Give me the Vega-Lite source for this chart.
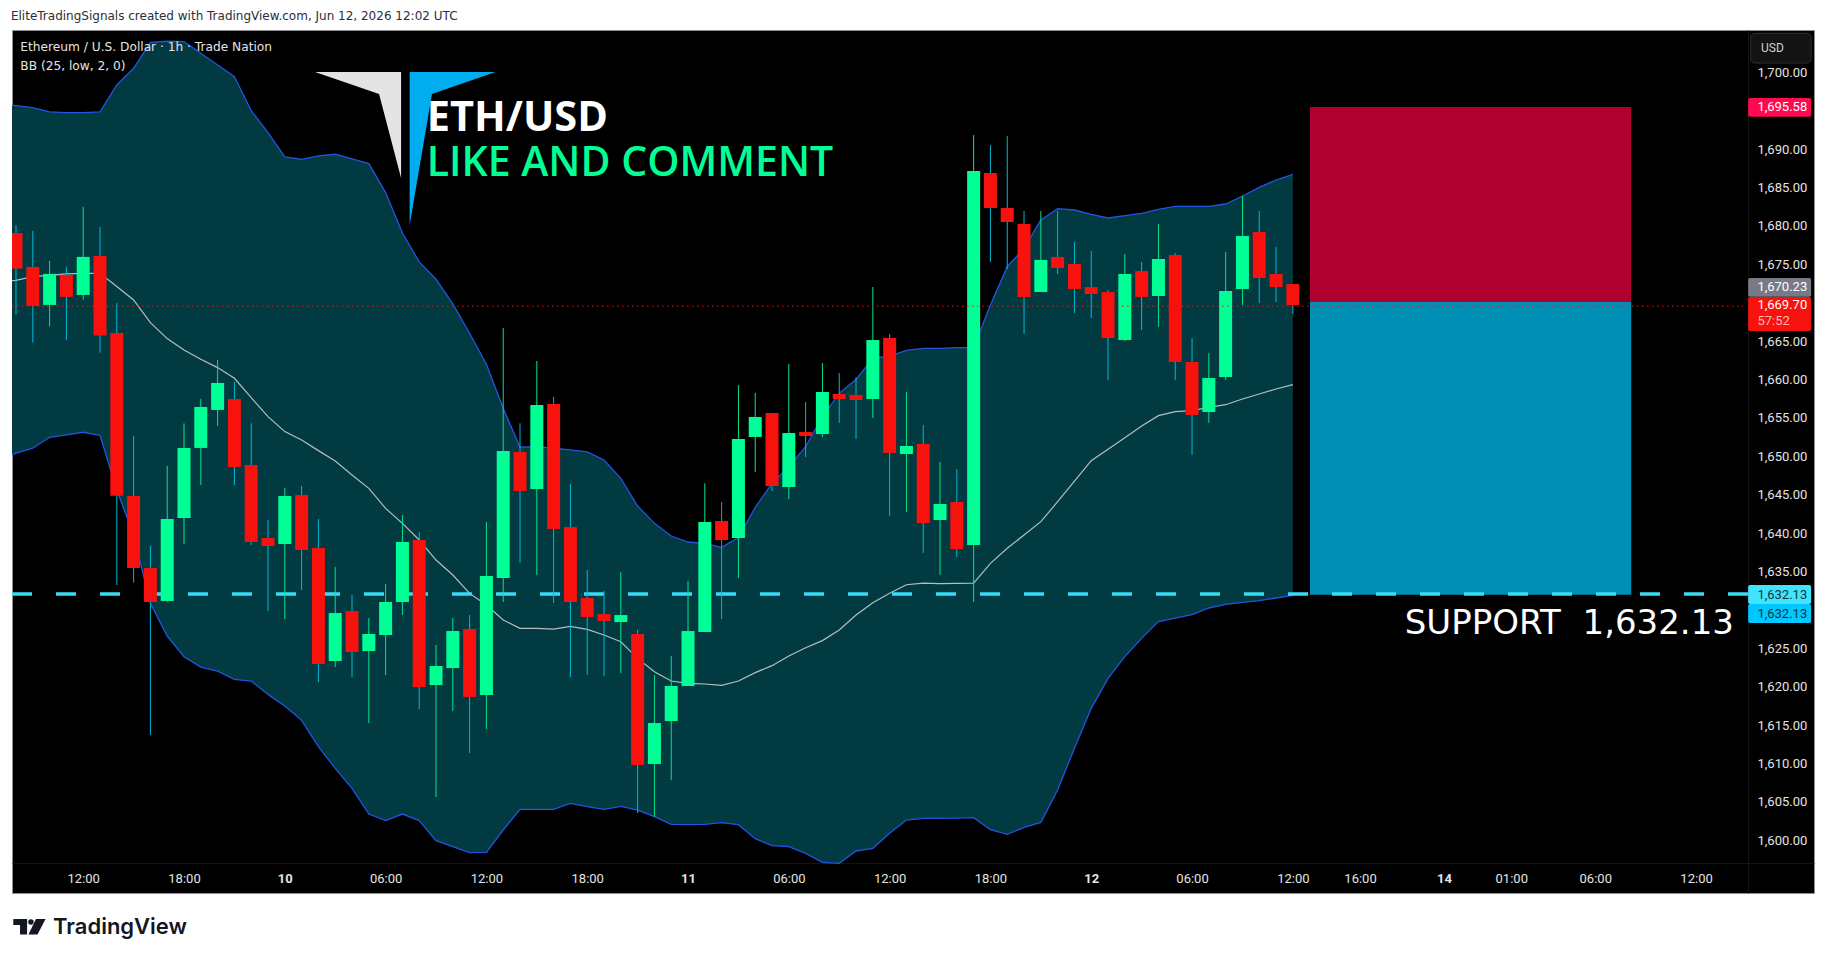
{
  "$schema": "https://vega.github.io/schema/vega-lite/v6.json",
  "width": 1802,
  "height": 863,
  "autosize": "none",
  "padding": {"left": 12, "top": 30, "right": 12, "bottom": 67},
  "background": "#ffffff",
  "view": {"fill": "#000000", "stroke": "#8f8f8f", "strokeWidth": 1},
  "config": {"text": {"font": "Roboto"}, "scale": {"continuousPadding": 0}},
  "resolve": {"scale": {"color": "independent"}},
  "datasets": {
    "bb": [
      {"bar":7.762,"upper":1695.7,"middle":1672.88,"lower":1650.18},
      {"bar":8,"upper":1695.66,"middle":1672.92,"lower":1650.4},
      {"bar":9,"upper":1695.4,"middle":1673.4,"lower":1651.05},
      {"bar":10,"upper":1694.84,"middle":1673.57,"lower":1652.48},
      {"bar":11,"upper":1694.75,"middle":1673.75,"lower":1652.78},
      {"bar":12,"upper":1694.75,"middle":1673.83,"lower":1653.13},
      {"bar":13,"upper":1694.84,"middle":1673.83,"lower":1652.74},
      {"bar":14,"upper":1698.35,"middle":1672.1,"lower":1645.61},
      {"bar":15,"upper":1700.52,"middle":1670.36,"lower":1639.75},
      {"bar":16,"upper":1703.91,"middle":1667.41,"lower":1630.85},
      {"bar":17,"upper":1704.04,"middle":1665.33,"lower":1626.6},
      {"bar":18,"upper":1704.0,"middle":1663.85,"lower":1623.91},
      {"bar":19,"upper":1702.48,"middle":1662.63,"lower":1622.56},
      {"bar":20,"upper":1700.96,"middle":1661.55,"lower":1622.04},
      {"bar":21,"upper":1699.44,"middle":1660.16,"lower":1620.96},
      {"bar":22,"upper":1695.0,"middle":1657.64,"lower":1620.74},
      {"bar":23,"upper":1692.15,"middle":1655.17,"lower":1619.0},
      {"bar":24,"upper":1688.98,"middle":1653.22,"lower":1617.49},
      {"bar":25,"upper":1688.67,"middle":1652.13,"lower":1615.62},
      {"bar":26,"upper":1689.11,"middle":1650.74,"lower":1612.19},
      {"bar":27,"upper":1689.33,"middle":1649.4,"lower":1609.37},
      {"bar":28,"upper":1688.72,"middle":1647.57,"lower":1606.76},
      {"bar":29,"upper":1688.11,"middle":1645.83,"lower":1603.42},
      {"bar":30,"upper":1684.33,"middle":1643.22,"lower":1602.56},
      {"bar":31,"upper":1679.08,"middle":1641.27,"lower":1603.42},
      {"bar":32,"upper":1675.31,"middle":1639.1,"lower":1602.56},
      {"bar":33,"upper":1673.05,"middle":1636.49,"lower":1599.95},
      {"bar":34,"upper":1669.84,"middle":1634.54,"lower":1599.17},
      {"bar":35,"upper":1666.02,"middle":1632.15,"lower":1598.39},
      {"bar":36,"upper":1661.98,"middle":1630.63,"lower":1598.43},
      {"bar":37,"upper":1656.25,"middle":1628.68,"lower":1601.34},
      {"bar":38,"upper":1651.18,"middle":1627.6,"lower":1604.03},
      {"bar":39,"upper":1651.26,"middle":1627.6,"lower":1604.03},
      {"bar":40,"upper":1651.05,"middle":1627.51,"lower":1604.03},
      {"bar":41,"upper":1650.83,"middle":1627.86,"lower":1604.81},
      {"bar":42,"upper":1650.57,"middle":1627.47,"lower":1604.38},
      {"bar":43,"upper":1649.52,"middle":1626.73,"lower":1604.03},
      {"bar":44,"upper":1647.13,"middle":1625.86,"lower":1604.42},
      {"bar":45,"upper":1643.53,"middle":1623.69,"lower":1603.94},
      {"bar":46,"upper":1641.27,"middle":1621.96,"lower":1603.08},
      {"bar":47,"upper":1639.62,"middle":1620.74,"lower":1602.08},
      {"bar":48,"upper":1638.84,"middle":1620.44,"lower":1602.04},
      {"bar":49,"upper":1638.67,"middle":1620.35,"lower":1602.08},
      {"bar":50,"upper":1638.15,"middle":1620.18,"lower":1602.3},
      {"bar":51,"upper":1639.41,"middle":1620.74,"lower":1602.04},
      {"bar":52,"upper":1643.36,"middle":1621.83,"lower":1600.21},
      {"bar":53,"upper":1646.48,"middle":1622.74,"lower":1599.3},
      {"bar":54,"upper":1648.65,"middle":1624.0,"lower":1599.17},
      {"bar":55,"upper":1651.25,"middle":1625.08,"lower":1598.3},
      {"bar":56,"upper":1655.16,"middle":1626.0,"lower":1597.13},
      {"bar":57,"upper":1658.2,"middle":1627.38,"lower":1597.0},
      {"bar":58,"upper":1660.02,"middle":1629.33,"lower":1598.61},
      {"bar":59,"upper":1662.75,"middle":1630.94,"lower":1598.96},
      {"bar":60,"upper":1663.06,"middle":1632.16,"lower":1600.91},
      {"bar":61,"upper":1663.8,"middle":1633.28,"lower":1602.64},
      {"bar":62,"upper":1664.06,"middle":1633.5,"lower":1602.86},
      {"bar":63,"upper":1664.06,"middle":1633.41,"lower":1602.86},
      {"bar":64,"upper":1664.14,"middle":1633.46,"lower":1602.9},
      {"bar":65,"upper":1664.14,"middle":1633.5,"lower":1602.95},
      {"bar":66,"upper":1669.7,"middle":1636.06,"lower":1601.38},
      {"bar":67,"upper":1674.69,"middle":1638.02,"lower":1600.78},
      {"bar":68,"upper":1677.08,"middle":1639.75,"lower":1601.69},
      {"bar":69,"upper":1680.77,"middle":1641.49,"lower":1602.34},
      {"bar":70,"upper":1682.24,"middle":1644.09,"lower":1606.55},
      {"bar":71,"upper":1682.07,"middle":1646.78,"lower":1611.98},
      {"bar":72,"upper":1681.5,"middle":1649.43,"lower":1617.18},
      {"bar":73,"upper":1681.03,"middle":1650.91,"lower":1621.09},
      {"bar":74,"upper":1681.33,"middle":1652.43,"lower":1623.91},
      {"bar":75,"upper":1681.63,"middle":1653.94,"lower":1626.3},
      {"bar":76,"upper":1682.15,"middle":1655.29,"lower":1628.47},
      {"bar":77,"upper":1682.54,"middle":1655.81,"lower":1628.94},
      {"bar":78,"upper":1682.54,"middle":1655.94,"lower":1629.38},
      {"bar":79,"upper":1682.54,"middle":1656.38,"lower":1630.25},
      {"bar":80,"upper":1682.85,"middle":1656.72,"lower":1630.72},
      {"bar":81,"upper":1683.89,"middle":1657.46,"lower":1630.98},
      {"bar":82,"upper":1685.02,"middle":1658.11,"lower":1631.2},
      {"bar":83,"upper":1685.97,"middle":1658.76,"lower":1631.55},
      {"bar":84,"upper":1686.71,"middle":1659.33,"lower":1631.9}
    ],
    "candles": [
      {"bar":8,"open":1679.08,"high":1680.12,"low":1668.41,"close":1674.44},
      {"bar":9,"open":1674.66,"high":1679.34,"low":1664.8,"close":1669.58},
      {"bar":10,"open":1669.71,"high":1675.44,"low":1666.89,"close":1673.75},
      {"bar":11,"open":1673.62,"high":1674.7,"low":1665.15,"close":1670.75},
      {"bar":12,"open":1671.01,"high":1682.47,"low":1670.36,"close":1675.96},
      {"bar":13,"open":1676.09,"high":1679.86,"low":1663.5,"close":1665.72},
      {"bar":14,"open":1666.06,"high":1669.97,"low":1633.24,"close":1644.87},
      {"bar":15,"open":1644.83,"high":1652.65,"low":1633.54,"close":1635.45},
      {"bar":16,"open":1635.45,"high":1638.32,"low":1613.71,"close":1631.03},
      {"bar":17,"open":1631.16,"high":1648.75,"low":1631.07,"close":1641.83},
      {"bar":18,"open":1641.96,"high":1654.3,"low":1638.58,"close":1651.09},
      {"bar":19,"open":1651.09,"high":1657.47,"low":1646.26,"close":1656.43},
      {"bar":20,"open":1656.04,"high":1662.55,"low":1653.96,"close":1659.55},
      {"bar":21,"open":1657.47,"high":1659.68,"low":1646.26,"close":1648.62},
      {"bar":22,"open":1648.88,"high":1654.3,"low":1638.45,"close":1638.84},
      {"bar":23,"open":1639.36,"high":1641.7,"low":1629.85,"close":1638.32},
      {"bar":24,"open":1638.58,"high":1645.87,"low":1628.81,"close":1644.83},
      {"bar":25,"open":1644.96,"high":1646.13,"low":1632.59,"close":1637.8},
      {"bar":26,"open":1638.06,"high":1641.83,"low":1620.61,"close":1622.95},
      {"bar":27,"open":1623.34,"high":1635.58,"low":1622.56,"close":1629.59},
      {"bar":28,"open":1629.85,"high":1631.94,"low":1621.26,"close":1624.52},
      {"bar":29,"open":1624.65,"high":1628.94,"low":1615.27,"close":1626.86},
      {"bar":30,"open":1626.73,"high":1633.37,"low":1621.52,"close":1631.03},
      {"bar":31,"open":1631.03,"high":1642.35,"low":1629.33,"close":1638.84},
      {"bar":32,"open":1639.1,"high":1640.14,"low":1617.09,"close":1619.96},
      {"bar":33,"open":1620.22,"high":1625.43,"low":1605.64,"close":1622.69},
      {"bar":34,"open":1622.43,"high":1628.94,"low":1616.83,"close":1627.25},
      {"bar":35,"open":1627.51,"high":1629.33,"low":1611.36,"close":1618.66},
      {"bar":36,"open":1618.92,"high":1641.44,"low":1614.49,"close":1634.41},
      {"bar":37,"open":1634.15,"high":1666.71,"low":1631.03,"close":1650.7},
      {"bar":38,"open":1650.57,"high":1654.3,"low":1636.1,"close":1645.48},
      {"bar":39,"open":1645.74,"high":1662.42,"low":1634.54,"close":1656.69},
      {"bar":40,"open":1656.82,"high":1657.73,"low":1630.9,"close":1640.53},
      {"bar":41,"open":1640.79,"high":1646.39,"low":1621.26,"close":1631.03},
      {"bar":42,"open":1631.55,"high":1635.19,"low":1621.52,"close":1629.07},
      {"bar":43,"open":1629.46,"high":1632.46,"low":1621.39,"close":1628.55},
      {"bar":44,"open":1628.42,"high":1634.93,"low":1621.78,"close":1629.33},
      {"bar":45,"open":1626.86,"high":1627.4,"low":1603.55,"close":1609.8},
      {"bar":46,"open":1609.94,"high":1621.52,"low":1603.08,"close":1615.27},
      {"bar":47,"open":1615.53,"high":1624.0,"low":1607.85,"close":1620.09},
      {"bar":48,"open":1620.09,"high":1633.76,"low":1620.09,"close":1627.25},
      {"bar":49,"open":1627.12,"high":1646.48,"low":1627.12,"close":1641.45},
      {"bar":50,"open":1641.58,"high":1644.05,"low":1628.81,"close":1639.1},
      {"bar":51,"open":1639.36,"high":1659.28,"low":1634.15,"close":1652.25},
      {"bar":52,"open":1652.52,"high":1658.24,"low":1647.96,"close":1655.12},
      {"bar":53,"open":1655.64,"high":1655.64,"low":1645.48,"close":1646.13},
      {"bar":54,"open":1646.0,"high":1662.0,"low":1644.44,"close":1653.03},
      {"bar":55,"open":1653.16,"high":1657.07,"low":1649.91,"close":1652.64},
      {"bar":56,"open":1652.9,"high":1662.15,"low":1652.52,"close":1658.37},
      {"bar":57,"open":1658.11,"high":1660.84,"low":1654.34,"close":1657.46},
      {"bar":58,"open":1657.98,"high":1660.32,"low":1652.25,"close":1657.33},
      {"bar":59,"open":1657.46,"high":1672.04,"low":1654.99,"close":1665.14},
      {"bar":60,"open":1665.4,"high":1665.92,"low":1642.23,"close":1650.43},
      {"bar":61,"open":1650.3,"high":1658.37,"low":1642.75,"close":1651.34},
      {"bar":62,"open":1651.6,"high":1654.08,"low":1637.41,"close":1641.32},
      {"bar":63,"open":1641.71,"high":1649.26,"low":1634.55,"close":1643.79},
      {"bar":64,"open":1644.05,"high":1648.35,"low":1636.89,"close":1637.93},
      {"bar":65,"open":1638.45,"high":1691.83,"low":1631.03,"close":1687.15},
      {"bar":66,"open":1686.89,"high":1690.53,"low":1675.3,"close":1682.33},
      {"bar":67,"open":1682.33,"high":1691.7,"low":1674.39,"close":1680.51},
      {"bar":68,"open":1680.25,"high":1681.94,"low":1665.92,"close":1670.74},
      {"bar":69,"open":1671.39,"high":1681.94,"low":1671.39,"close":1675.56},
      {"bar":70,"open":1675.95,"high":1681.94,"low":1673.74,"close":1674.52},
      {"bar":71,"open":1675.04,"high":1677.9,"low":1668.66,"close":1671.78},
      {"bar":72,"open":1672.04,"high":1676.73,"low":1668.01,"close":1671.13},
      {"bar":73,"open":1671.39,"high":1671.65,"low":1659.93,"close":1665.4},
      {"bar":74,"open":1665.14,"high":1676.34,"low":1665.01,"close":1673.74},
      {"bar":75,"open":1674.13,"high":1675.3,"low":1666.44,"close":1670.74},
      {"bar":76,"open":1670.87,"high":1680.25,"low":1666.83,"close":1675.69},
      {"bar":77,"open":1676.21,"high":1676.47,"low":1659.93,"close":1662.28},
      {"bar":78,"open":1662.28,"high":1665.4,"low":1650.17,"close":1655.38},
      {"bar":79,"open":1655.77,"high":1663.45,"low":1654.34,"close":1660.19},
      {"bar":80,"open":1660.32,"high":1676.6,"low":1659.93,"close":1671.52},
      {"bar":81,"open":1671.78,"high":1683.89,"low":1669.7,"close":1678.68},
      {"bar":82,"open":1679.2,"high":1681.94,"low":1669.96,"close":1673.21},
      {"bar":83,"open":1673.74,"high":1677.25,"low":1670.09,"close":1672.04},
      {"bar":84,"open":1672.43,"high":1672.43,"low":1668.53,"close":1669.7}
    ],
    "tags": [
      {"tag":"stop","label":"1,695.58","top":1696.65,"bottom":1694.22,"mid":1695.44},
      {"tag":"entry","label":"1,670.23","top":1673.22,"bottom":1670.78,"mid":1672.0},
      {"tag":"last","label":"1,669.70","top":1670.74,"bottom":1666.31,"mid":1669.7},
      {"tag":"support","label":"1,632.13","top":1633.24,"bottom":1630.77,"mid":1632.0},
      {"tag":"alert","label":"1,632.13","top":1630.77,"bottom":1628.29,"mid":1629.53}
    ]
  },
  "layer": [
    {
      "data": {"name": "bb"},
      "mark": {"type": "area", "color": "#023a42", "clip": true},
      "encoding": {
        "x": {
          "field": "bar",
          "type": "quantitative",
          "scale": {"domain": [7.762, 115.02], "nice": false, "zero": false},
          "axis": {
            "title": null,
            "orient": "bottom",
            "offset": -30,
            "values": [12,18,24,30,36,42,48,54,60,66,72,78,84,88,93,97,102,108],
            "labelExpr": "{'12':'12:00','18':'18:00','24':'10','30':'06:00','36':'12:00','42':'18:00','48':'11','54':'06:00','60':'12:00','66':'18:00','72':'12','78':'06:00','84':'12:00','88':'16:00','93':'14','97':'01:00','102':'06:00','108':'12:00'}[datum.value]",
            "labelFont": "Roboto",
            "labelFontSize": 13,
            "labelColor": "#e4e4e4",
            "labelFontWeight": {"condition": {"test": "indexof([24,48,72,93],datum.value)>=0", "value": "bold"}, "value": "normal"},
            "labelPadding": 9,
            "labelOverlap": false,
            "labelFlush": false,
            "grid": false,
            "ticks": false,
            "domainColor": "#141414"
          }
        },
        "y": {
          "field": "upper",
          "type": "quantitative",
          "scale": {"domain": [1593.14, 1705.508], "nice": false, "zero": false},
          "axis": {
            "title": null,
            "orient": "right",
            "offset": -66,
            "values": [1600,1605,1610,1615,1620,1625,1635,1640,1645,1650,1655,1660,1665,1675,1680,1685,1690,1700],
            "format": ",.2f",
            "labelFont": "Roboto",
            "labelFontSize": 13,
            "labelColor": "#e4e4e4",
            "labelPadding": 9,
            "labelOverlap": false,
            "labelFlush": false,
            "grid": false,
            "ticks": false,
            "domainColor": "#141414"
          }
        },
        "y2": {"field": "lower"}
      }
    },
    {
      "data": {"name": "bb"},
      "mark": {"type": "line", "color": "#2255e0", "strokeWidth": 1.3, "clip": true},
      "encoding": {"x": {"field": "bar", "type": "quantitative"}, "y": {"field": "upper", "type": "quantitative"}}
    },
    {
      "data": {"name": "bb"},
      "mark": {"type": "line", "color": "#2255e0", "strokeWidth": 1.3, "clip": true},
      "encoding": {"x": {"field": "bar", "type": "quantitative"}, "y": {"field": "lower", "type": "quantitative"}}
    },
    {
      "data": {"name": "bb"},
      "mark": {"type": "line", "color": "#b4bebe", "strokeWidth": 1.2, "clip": true},
      "encoding": {"x": {"field": "bar", "type": "quantitative"}, "y": {"field": "middle", "type": "quantitative"}}
    },
    {
      "data": {"values": [
        {"zone": "risk", "from": 85.02, "to": 104.14, "top": 1695.47, "bottom": 1670.1},
        {"zone": "reward", "from": 85.02, "to": 104.14, "top": 1670.1, "bottom": 1631.98}
      ]},
      "mark": {"type": "rect"},
      "encoding": {
        "x": {"field": "from", "type": "quantitative"},
        "x2": {"field": "to"},
        "y": {"field": "top", "type": "quantitative"},
        "y2": {"field": "bottom"},
        "color": {"field": "zone", "type": "nominal", "legend": null, "scale": {"domain": ["risk", "reward"], "range": ["#b00030", "#008fb4"]}}
      }
    },
    {
      "data": {"values": [{"from": 7.762, "to": 111.1, "price": 1632.06}]},
      "mark": {"type": "rule", "color": "#38dcf5", "strokeWidth": 3.5, "strokeDash": [20, 24]},
      "encoding": {
        "x": {"field": "from", "type": "quantitative"},
        "x2": {"field": "to"},
        "y": {"field": "price", "type": "quantitative"}
      }
    },
    {
      "data": {"name": "candles"},
      "mark": {"type": "rule", "strokeWidth": 1, "clip": true},
      "encoding": {
        "x": {"field": "bar", "type": "quantitative"},
        "y": {"field": "high", "type": "quantitative"},
        "y2": {"field": "low"},
        "color": {"condition": {"test": "datum.close>=datum.open", "value": "#00e68c"}, "value": "#00b8d4"}
      }
    },
    {
      "data": {"name": "candles"},
      "mark": {"type": "bar", "size": 13, "clip": true},
      "encoding": {
        "x": {"field": "bar", "type": "quantitative"},
        "y": {"field": "open", "type": "quantitative"},
        "y2": {"field": "close"},
        "color": {"condition": {"test": "datum.close>=datum.open", "value": "#00ff94"}, "value": "#f7120d"}
      }
    },
    {
      "data": {"values": [{"from": 7.762, "to": 110.8, "price": 1669.55}]},
      "mark": {"type": "rule", "color": "#f7120d", "strokeWidth": 1, "strokeDash": [1.5, 3.5]},
      "encoding": {
        "x": {"field": "from", "type": "quantitative"},
        "x2": {"field": "to"},
        "y": {"field": "price", "type": "quantitative"}
      }
    },
    {
      "data": {"values": [
        {"part": "gray", "bar": 25.8, "top": 1700.04, "bottom": 1700.04},
        {"part": "gray", "bar": 29.61, "top": 1700.04, "bottom": 1697.17},
        {"part": "gray", "bar": 30.92, "top": 1700.04, "bottom": 1686.23}
      ]},
      "mark": {"type": "area", "color": "#e4e4e4"},
      "encoding": {
        "x": {"field": "bar", "type": "quantitative"},
        "y": {"field": "top", "type": "quantitative"},
        "y2": {"field": "bottom"}
      }
    },
    {
      "data": {"values": [
        {"part": "blue", "bar": 31.43, "top": 1700.04, "bottom": 1680.12},
        {"part": "blue", "bar": 32.76, "top": 1700.04, "bottom": 1697.17},
        {"part": "blue", "bar": 36.54, "top": 1700.04, "bottom": 1700.04}
      ]},
      "mark": {"type": "area", "color": "#00adef"},
      "encoding": {
        "x": {"field": "bar", "type": "quantitative"},
        "y": {"field": "top", "type": "quantitative"},
        "y2": {"field": "bottom"}
      }
    },
    {
      "data": {"values": [{"text": "ETH/USD", "bar": 32.45, "price": 1693.86}]},
      "mark": {"type": "text", "align": "left", "baseline": "middle", "font": "Open Sans", "fontWeight": "bold", "fontSize": 41.5, "color": "#ffffff"},
      "encoding": {"x": {"field": "bar", "type": "quantitative"}, "y": {"field": "price", "type": "quantitative"}, "text": {"field": "text"}}
    },
    {
      "data": {"values": [{"text": "LIKE AND COMMENT", "bar": 32.45, "price": 1688.07}]},
      "mark": {"type": "text", "align": "left", "baseline": "middle", "font": "Open Sans", "fontWeight": 600, "fontSize": 41, "color": "#00ff94"},
      "encoding": {"x": {"field": "bar", "type": "quantitative"}, "y": {"field": "price", "type": "quantitative"}, "text": {"field": "text"}}
    },
    {
      "data": {"values": [{"text": "SUPPORT\u00a0\u00a01,632.13", "bar": 90.66, "price": 1628.2}]},
      "mark": {"type": "text", "align": "left", "baseline": "middle", "font": "DejaVu Sans", "fontSize": 34, "color": "#ffffff"},
      "encoding": {"x": {"field": "bar", "type": "quantitative"}, "y": {"field": "price", "type": "quantitative"}, "text": {"field": "text"}}
    },
    {
      "data": {"values": [
        {"text": "Ethereum / U.S. Dollar · 1h · Trade Nation", "bar": 8.26, "price": 1703.33},
        {"text": "BB (25, low, 2, 0)", "bar": 8.26, "price": 1700.86}
      ]},
      "mark": {"type": "text", "align": "left", "baseline": "middle", "font": "DejaVu Sans", "fontSize": 12.2, "color": "#e4e4e4"},
      "encoding": {"x": {"field": "bar", "type": "quantitative"}, "y": {"field": "price", "type": "quantitative"}, "text": {"field": "text"}}
    },
    {
      "data": {"values": [{"text": "EliteTradingSignals created with TradingView.com, Jun 12, 2026 12:02 UTC", "bar": 7.7, "price": 1707.33}]},
      "mark": {"type": "text", "align": "left", "baseline": "middle", "font": "DejaVu Sans", "fontSize": 12, "color": "#2a2e39"},
      "encoding": {"x": {"field": "bar", "type": "quantitative"}, "y": {"field": "price", "type": "quantitative"}, "text": {"field": "text"}}
    },
    {
      "data": {"values": [{"from": 111.25, "to": 114.85, "top": 1705.08, "bottom": 1701.2}]},
      "mark": {"type": "rect", "fill": "#131313", "stroke": "#2e2e2e", "strokeWidth": 1, "cornerRadius": 4},
      "encoding": {
        "x": {"field": "from", "type": "quantitative"},
        "x2": {"field": "to"},
        "y": {"field": "top", "type": "quantitative"},
        "y2": {"field": "bottom"}
      }
    },
    {
      "data": {"values": [{"text": "USD", "bar": 111.87, "price": 1703.16}]},
      "mark": {"type": "text", "align": "left", "baseline": "middle", "fontSize": 12, "color": "#d0d0d0"},
      "encoding": {"x": {"field": "bar", "type": "quantitative"}, "y": {"field": "price", "type": "quantitative"}, "text": {"field": "text"}}
    },
    {
      "data": {"name": "tags"},
      "mark": {"type": "rect", "cornerRadius": 2},
      "encoding": {
        "x": {"datum": 111.1, "type": "quantitative"},
        "x2": {"datum": 114.85},
        "y": {"field": "top", "type": "quantitative"},
        "y2": {"field": "bottom"},
        "color": {"field": "tag", "type": "nominal", "legend": null, "scale": {"domain": ["stop", "entry", "last", "support", "alert"], "range": ["#ff0a50", "#787b86", "#f7120d", "#40e4ff", "#00c8ff"]}}
      }
    },
    {
      "data": {"name": "tags"},
      "mark": {"type": "text", "align": "left", "baseline": "middle", "fontSize": 13},
      "encoding": {
        "x": {"datum": 111.65, "type": "quantitative"},
        "y": {"field": "mid", "type": "quantitative"},
        "text": {"field": "label"},
        "color": {"condition": {"test": "datum.tag==='support'||datum.tag==='alert'", "value": "#10343c"}, "value": "#ffffff"}
      }
    },
    {
      "data": {"values": [{"text": "57:52", "bar": 111.65, "price": 1667.67}]},
      "mark": {"type": "text", "align": "left", "baseline": "middle", "fontSize": 13, "color": "#ffb8b0"},
      "encoding": {"x": {"field": "bar", "type": "quantitative"}, "y": {"field": "price", "type": "quantitative"}, "text": {"field": "text"}}
    },
    {
      "data": {"values": [
        {"part": "bar of the T", "from": 7.84, "to": 8.66, "top": 1589.75, "bottom": 1588.97},
        {"part": "stem of the T", "from": 8.24, "to": 8.66, "top": 1589.75, "bottom": 1587.73}
      ]},
      "mark": {"type": "rect", "color": "#131722"},
      "encoding": {
        "x": {"field": "from", "type": "quantitative"},
        "x2": {"field": "to"},
        "y": {"field": "top", "type": "quantitative"},
        "y2": {"field": "bottom"}
      }
    },
    {
      "data": {"values": [{"bar": 8.89, "price": 1589.36}]},
      "mark": {"type": "point", "filled": true, "opacity": 1, "size": 30, "shape": "circle", "color": "#131722"},
      "encoding": {"x": {"field": "bar", "type": "quantitative"}, "y": {"field": "price", "type": "quantitative"}}
    },
    {
      "data": {"values": [
        {"left": 9.19, "right": 9.76, "price": 1589.75},
        {"left": 8.74, "right": 9.28, "price": 1587.73}
      ]},
      "mark": {"type": "area", "orient": "horizontal", "color": "#131722"},
      "encoding": {
        "x": {"field": "left", "type": "quantitative"},
        "x2": {"field": "right"},
        "y": {"field": "price", "type": "quantitative"}
      }
    },
    {
      "data": {"values": [{"text": "TradingView", "bar": 10.2, "price": 1588.72}]},
      "mark": {"type": "text", "align": "left", "baseline": "middle", "font": "Inter", "fontWeight": 600, "fontSize": 22, "color": "#131722"},
      "encoding": {"x": {"field": "bar", "type": "quantitative"}, "y": {"field": "price", "type": "quantitative"}, "text": {"field": "text"}}
    }
  ]
}
